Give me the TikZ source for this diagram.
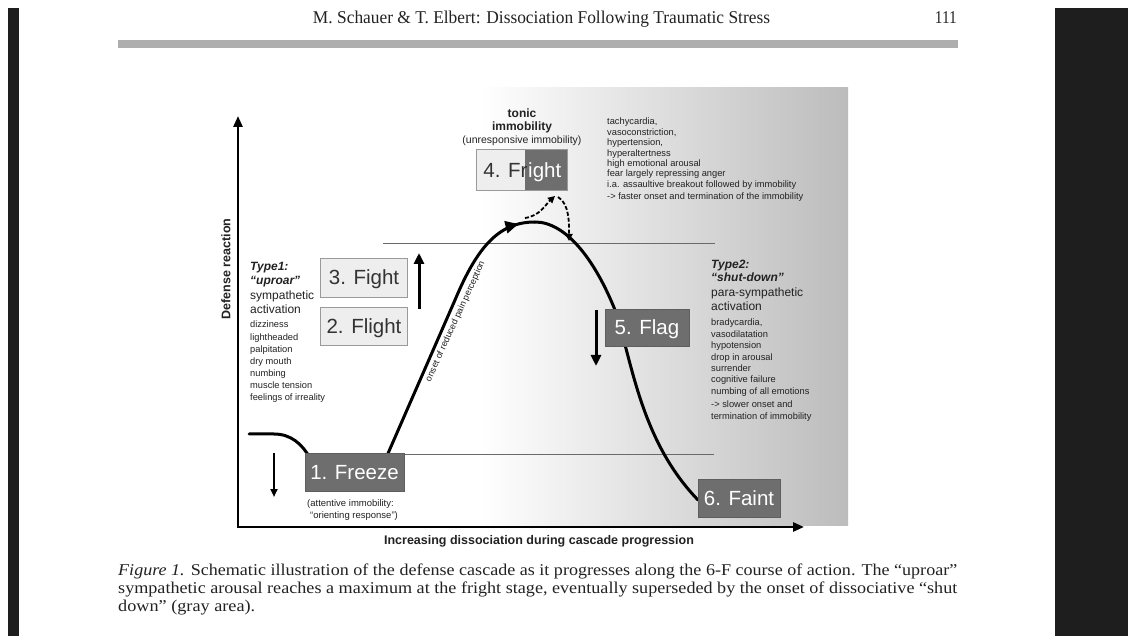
\documentclass[tikz,border=0pt]{standalone}
\usepackage{fontspec}
\setmainfont{Liberation Serif}
\newfontfamily\sansf{Liberation Sans}
\usetikzlibrary{arrows.meta,decorations.markings}
\definecolor{pagebk}{HTML}{1E1E1E}
\definecolor{rulegray}{HTML}{AEAEAE}
\definecolor{boxdark}{HTML}{6E6E6E}
\definecolor{boxdarkedge}{HTML}{5E5E5E}
\definecolor{boxlight}{HTML}{EEEEEE}
\definecolor{boxedge}{HTML}{9A9A9A}
\definecolor{txt}{HTML}{222222}
\definecolor{boxtxt}{HTML}{333333}
\definecolor{shadegray}{HTML}{BCBCBC}
\definecolor{guidegray}{HTML}{6A6A6A}
\begin{document}
\begin{tikzpicture}[x=1pt,y=-1pt,
  boxlabel/.style={font=\sansf\fontsize{20.5}{20.5}\selectfont, inner sep=0pt, text height=14.8pt, text depth=0pt, line width=0.8pt},
  lightbox/.style={boxlabel, draw=boxedge, fill=boxlight, text=boxtxt},
  darkbox/.style={boxlabel, draw=boxdarkedge, fill=boxdark, text=white},
  typehead/.style={anchor=base west, inner sep=0pt, text=txt, font=\sansf\bfseries\itshape\fontsize{12}{12}\selectfont},
  typebody/.style={anchor=base west, inner sep=0pt, text=txt, font=\sansf\fontsize{12}{12}\selectfont},
  listtxt/.style={anchor=base west, inner sep=0pt, text=txt, font=\sansf\fontsize{9.3}{9.3}\selectfont},
  tonictxt/.style={anchor=base, inner sep=0pt, text=txt, font=\sansf\bfseries\fontsize{12}{12}\selectfont},
  axislabel/.style={inner sep=0pt, text=txt, font=\sansf\bfseries\fontsize{12.5}{12.5}\selectfont},
  axisline/.style={line width=2.6pt, {Triangle[length=11pt,width=9pt]}-{Triangle[length=11pt,width=9pt]}},
  curveline/.style={line width=3pt, line cap=round, black},
  guideline/.style={draw=guidegray, line width=0.9pt},
  bigarrow/.style={line width=3pt, -{Triangle[length=11pt,width=10pt]}},
  smallarrow/.style={line width=2pt, -{Triangle[length=8pt,width=7pt]}},
  dasharrow/.style={line width=1.8pt, dash pattern=on 4pt off 2pt, -{Triangle[length=7pt,width=7pt]}},
  peakarrow/.style={postaction={decorate}, decoration={markings, mark=at position 0.86 with {\arrow{Triangle[length=13pt,width=12pt]}}}},
  serif/.style={inner sep=0pt, text=txt, font=\fontsize{16.5}{16.5}\selectfont}
]
\useasboundingbox (0,0) rectangle (1128,636);
\fill[white] (0,0) rectangle (1128,636);
% page edges
\fill[pagebk] (8,8) rectangle (19,636);
\fill[pagebk] (1055,8) rectangle (1128,636);
% header
\node[serif, anchor=base] (hdr) at (541.5,24) {\resizebox{457pt}{\height}{\fontsize{18}{18}\selectfont M. Schauer \& T. Elbert: Dissociation Following Traumatic Stress}};
\node[serif, anchor=base east] (pg) at (957,24) {\scalebox{0.85}[1]{\fontsize{18}{18}\selectfont 111}};
\fill[rulegray] (118,40) rectangle (958,48);
% gray area
\shade[left color=white, right color=shadegray] (480,88) rectangle (848,525);
% guide lines
\coordinate (gu1) at (383,243); \coordinate (gu2) at (715,243);
\coordinate (gl1) at (404,454); \coordinate (gl2) at (714,454);
\draw[guideline] (gu1) -- (gu2);
\draw[guideline] (gl1) -- (gl2);
% axes
\coordinate (ytip) at (238,116);
\coordinate (orig) at (238,527);
\coordinate (xtip) at (804,527);
\draw[axisline] (ytip) -- (orig) -- (xtip);
% curve
\draw[curveline] (249,434) -- (274,434) .. controls (291,434) and (302,444) .. (310,458);
\draw[curveline] (386,458) -- (455,300);
\draw[curveline, peakarrow] (455,300) .. controls (478,245) and (500,222) .. (535,222);
\draw[curveline] (535,222) .. controls (566,222) and (595,260) .. (615,310) .. controls (632,360) and (640,440) .. (698,500);
% dashed arrows
\coordinate (d0) at (525,218);
\coordinate (d1) at (555,196);
\coordinate (d2) at (558,197);
\coordinate (d3) at (569,241);
\draw[dasharrow] (d0) .. controls (540,216) and (546,204) .. (d1);
\draw[dasharrow] (d2) .. controls (570,204) and (569,225) .. (d3);
% boxes
\node[lightbox, minimum width=87pt, minimum height=39pt] (fight) at (364,277.5) {3. Fight};
\node[lightbox, minimum width=87pt, minimum height=38pt] (flight) at (364,326) {2. Flight};
\node[darkbox, minimum width=84pt, minimum height=37pt] (flag) at (647,327.5) {5. Flag};
\node[darkbox, minimum width=99pt, minimum height=38pt] (freeze) at (354.5,472) {1. Freeze};
\node[darkbox, minimum width=82pt, minimum height=38pt] (faint) at (739,498) {6. Faint};
% fright box (split)
\node[boxlabel, fill=boxlight, minimum width=90pt, minimum height=40pt] (fright) at (522,170) {};
\fill[boxdark] (524.5,150) rectangle (567,190);
\draw[boxedge, line width=0.8pt] (fright.north west) rectangle (fright.south east);
\node[boxlabel, anchor=base west, text=boxtxt] (frl) at (483,177.4) {4. Fr};
\node[boxlabel, anchor=base west, text=white] (frr) at (frl.base east) {ight};
% arrows beside boxes
\coordinate (ua1) at (419,309); \coordinate (ua2) at (419,253);
\draw[bigarrow] (ua1) -- (ua2);
\coordinate (fa1) at (596,310); \coordinate (fa2) at (596,366);
\draw[bigarrow] (fa1) -- (fa2);
\coordinate (za1) at (274,453); \coordinate (za2) at (274,497);
\draw[smallarrow] (za1) -- (za2);
% tonic immobility
\node[tonictxt] (ton1) at (522,117.5) {tonic};
\node[tonictxt] (ton2) at (522,130.5) {immobility};
\node[tonictxt, font=\sansf\fontsize{10.5}{10.5}\selectfont] (ton3) at (522,143.5) {(unresponsive immobility)};
% fright list
\foreach \w [count=\i] in {{tachycardia,},{vasoconstriction,},{hypertension,},hyperaltertness,high emotional arousal,fear largely repressing anger,i.a. assaultive breakout followed by immobility}
  \node[listtxt] (f\i) at (607,{125+10.4*(\i-1)}) {\w};
\node[listtxt] (f8) at (607,200) {-> faster onset and termination of the immobility};
% type 1
\node[typehead] (t1a) at (250,271) {Type1:};
\node[typehead] (t1b) at (250,285) {“uproar”};
\node[typebody] (t1c) at (250,300) {sympathetic};
\node[typebody] (t1d) at (250,314) {activation};
\foreach \w [count=\i] in {dizziness,lightheaded,palpitation,dry mouth,numbing,muscle tension,feelings of irreality}
  \node[listtxt] (s\i) at (250,{328+12.1*(\i-1)}) {\w};
% type 2
\node[typehead] (t2a) at (711,269) {Type2:};
\node[typehead] (t2b) at (711,282) {“shut-down”};
\node[typebody] (t2c) at (711,297) {para-sympathetic};
\node[typebody] (t2d) at (711,311) {activation};
\foreach \w [count=\i] in {{bradycardia,},vasodilatation,hypotension,drop in arousal,surrender,cognitive failure,numbing of all emotions}
  \node[listtxt] (p\i) at (711,{326+11.4*(\i-1)}) {\w};
\node[listtxt] (p8) at (711,408) {-> slower onset and};
\node[listtxt] (p9) at (711,419.5) {termination of immobility};
% freeze caption
\node[listtxt, font=\sansf\fontsize{9.5}{9.5}\selectfont] (fc1) at (307,506.5) {(attentive immobility:};
\node[listtxt, font=\sansf\fontsize{9.5}{9.5}\selectfont] (fc2) at (310,518.5) {“orienting response”)};
% pain label
\node[inner sep=0pt, rotate=65.5, text=txt, font=\sansf\fontsize{9}{9}\selectfont] (pain) at (455.5,321.5) {onset of reduced pain perception};
% axis labels
\node[axislabel, rotate=90] (ylab) at (226,269) {Defense reaction};
\node[axislabel, anchor=base] (xlab) at (539,544) {Increasing dissociation during cascade progression};
% caption
\node[serif, anchor=base west] (cap1) at (118,575.5) {\resizebox{839pt}{\height}{\textit{Figure 1.} Schematic illustration of the defense cascade as it progresses along the 6-F course of action. The “uproar”}};
\node[serif, anchor=base west] (cap2) at (118,593.5) {\resizebox{839pt}{\height}{sympathetic arousal reaches a maximum at the fright stage, eventually superseded by the onset of dissociative “shut}};
\node[serif, anchor=base west] (cap3) at (118,611) {\resizebox{137pt}{\height}{down” (gray area).}};
\end{tikzpicture}
\end{document}
